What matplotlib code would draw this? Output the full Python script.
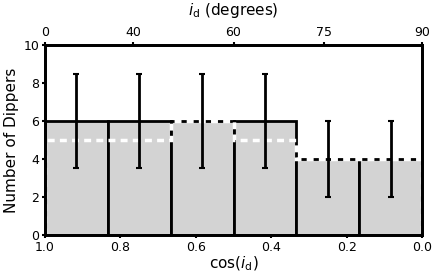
import numpy as np
import matplotlib
matplotlib.use("Agg")
import matplotlib.pyplot as plt

# Observed dipper counts per cos(i_d) bin and isotropic expectation
bin_edges = [1.0, 5/6, 4/6, 3/6, 2/6, 1/6, 0.0]
counts = [6, 6, 6, 6, 4, 4]
expected = [5, 5, 6, 5, 4, 4]
top_ticks_deg = [0, 40, 60, 75, 90]

edges = np.array(bin_edges)
centers = (edges[:-1] + edges[1:]) / 2
widths = edges[:-1] - edges[1:]

fig = plt.figure(figsize=(4.36, 2.76), dpi=100)
ax = fig.add_axes([45/436, 1 - 235/276, 377/436, 190/276])

ax.bar(centers, counts, width=widths, color='lightgray', edgecolor='black', linewidth=2, zorder=1)
ax.stairs(expected, edges, color='white', linestyle=(0, (2, 1.5)), linewidth=2.5, zorder=2)
ax.errorbar(centers, counts, yerr=np.sqrt(counts), fmt='none', ecolor='black',
            elinewidth=2, capsize=2, capthick=1.5, zorder=3)

ax.set_xlim(1.0, 0.0)
ax.set_ylim(0, 10)
ax.set_xticks([1.0, 0.8, 0.6, 0.4, 0.2, 0.0])
ax.set_yticks([0, 2, 4, 6, 8, 10])
ax.set_xlabel(r'cos($i_{\rm d}$)', fontsize=11, labelpad=1)
ax.set_ylabel('Number of Dippers', fontsize=11, labelpad=3)
ax.tick_params(labelsize=9, width=1.5, length=2, pad=2)
for s in ax.spines.values():
    s.set_linewidth(2)

ax2 = ax.twiny()
ax2.set_xlim(1.0, 0.0)
ax2.set_xticks(np.cos(np.radians(top_ticks_deg)))
ax2.set_xticklabels([str(d) for d in top_ticks_deg])
ax2.set_xlabel(r'$i_{\rm d}$ (degrees)', fontsize=11, labelpad=8)
ax2.tick_params(labelsize=9, width=1.5, length=2, pad=2)
for s in ax2.spines.values():
    s.set_linewidth(2)

fig.savefig('out.png', dpi=100)
